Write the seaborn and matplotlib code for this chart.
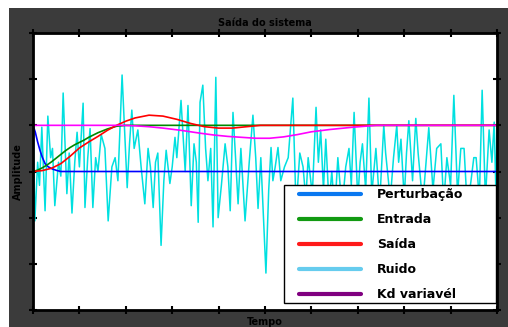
import numpy as np
import matplotlib
matplotlib.use("Agg")
import matplotlib.pyplot as plt
from matplotlib.lines import Line2D
from matplotlib.patches import Rectangle
import seaborn as sns

# ---- data ----
pert_t = [0.0, 0.05, 0.1, 0.15, 0.2, 0.26, 0.33, 0.43, 0.52, 0.6, 10.0]
pert_v = [1.0, 0.85, 0.64, 0.46, 0.31, 0.17, 0.10, 0.05, 0.02, 0.0, 0.0]

ent_t = [0.0, 0.1, 0.2, 0.3, 0.4, 0.5, 0.6, 0.7, 0.8, 0.9, 1.0, 1.1, 1.2, 1.3,
         1.4, 1.5, 1.6, 1.7, 1.8, 1.9, 2.0, 10.0]
ent_v = [0.0, 0.03, 0.08, 0.14, 0.21, 0.29, 0.37, 0.45, 0.52, 0.58, 0.63, 0.68,
         0.74, 0.79, 0.84, 0.88, 0.92, 0.95, 0.98, 0.99, 1.0, 1.0]

sai_t = [0.0, 0.2, 0.4, 0.6, 0.8, 1.0, 1.2, 1.4, 1.6, 1.8, 2.0, 2.2, 2.5, 2.8,
         3.1, 3.4, 3.7, 4.0, 4.3, 4.6, 4.9, 5.5, 10.0]
sai_v = [0.0, 0.02, 0.07, 0.17, 0.33, 0.51, 0.64, 0.76, 0.89, 1.0, 1.09, 1.16,
         1.22, 1.2, 1.13, 1.04, 0.97, 0.94, 0.94, 0.97, 1.0, 1.0, 1.0]

kd_t = [0.0, 1.9, 2.2, 2.5, 2.8, 3.2, 3.6, 3.9, 4.2, 4.5, 4.8, 5.1, 5.4, 5.7,
        6.0, 6.4, 6.9, 7.4, 10.0]
kd_v = [1.0, 1.0, 0.99, 0.97, 0.94, 0.89, 0.83, 0.79, 0.76, 0.74, 0.72, 0.72,
        0.75, 0.8, 0.86, 0.91, 0.96, 1.0, 1.0]

noise_t = [0.0, 0.04, 0.1, 0.14, 0.19, 0.26, 0.32, 0.38, 0.42, 0.47, 0.55, 0.6,
           0.65, 0.73, 0.78, 0.84, 0.9, 0.95, 1.0, 1.08, 1.12, 1.18, 1.23, 1.29,
           1.35, 1.4, 1.47, 1.55, 1.62, 1.7, 1.77, 1.83, 1.92, 2.03, 2.08, 2.13,
           2.18, 2.26, 2.33, 2.41, 2.48, 2.53, 2.59, 2.64, 2.69, 2.76, 2.82, 2.87,
           2.95, 3.0, 3.06, 3.1, 3.19, 3.28, 3.34, 3.41, 3.47, 3.52, 3.56, 3.6,
           3.66, 3.72, 3.77, 3.83, 3.88, 3.94, 3.99, 4.06, 4.14, 4.2, 4.25, 4.31,
           4.36, 4.42, 4.48, 4.57, 4.66, 4.74, 4.8, 4.85, 4.91, 5.02, 5.08, 5.13,
           5.17, 5.22, 5.28, 5.34, 5.42, 5.5, 5.6, 5.67, 5.75, 5.82, 5.88, 5.93,
           6.02, 6.1, 6.15, 6.2, 6.26, 6.31, 6.38, 6.44, 6.5, 6.57, 6.66, 6.74,
           6.81, 6.86, 6.92, 7.0, 7.05, 7.1, 7.17, 7.24, 7.3, 7.39, 7.47, 7.56,
           7.6, 7.7, 7.77, 7.84, 7.88, 7.93, 8.0, 8.05, 8.1, 8.18, 8.25, 8.3,
           8.4, 8.47, 8.53, 8.62, 8.7, 8.79, 8.85, 8.92, 9.0, 9.07, 9.15, 9.22,
           9.29, 9.36, 9.44, 9.5, 9.55, 9.62, 9.68, 9.75, 9.83, 9.89, 9.94, 9.98,
           10.0]
noise_v = [1.1, -1.07, 0.2, -0.3, 0.96, -0.85, 1.2, 0.3, 0.5, -0.74, 0.2, -0.1,
           1.7, -0.48, 0.4, -0.9, 0.2, 0.85, 0.1, 1.48, -0.78, 0.3, 0.93, -0.78,
           0.3, 0.0, 0.8, 0.5, -1.07, 0.1, 0.3, -0.2, 2.09, -0.35, 0.6, 1.33,
           0.5, 0.9, 0.1, -0.7, 0.5, 0.1, -0.78, 0.2, 0.4, -1.6, -0.2, 0.46,
           -0.26, 0.1, 0.74, 0.3, 1.54, 0.0, 1.43, -0.74, 0.6, 0.2, -1.1, 1.5,
           1.87, 0.5, -0.2, 0.5, -1.2, 2.04, -1.0, -0.3, 0.6, 0.1, -0.85, 1.28,
           0.4, -0.7, 0.5, -1.07, 0.2, 1.22, 0.3, -0.8, 0.3, -2.2, -0.4, 0.52,
           -0.2, 0.1, 0.52, -0.2, 0.1, 0.3, 1.59, -0.8, 0.4, 0.1, -0.6, 0.3,
           -0.5, 1.39, 0.2, 0.9, -0.4, 0.7, -0.7, 0.0, -0.9, 0.3, -0.8, 0.1,
           0.5, -0.3, 1.28, -0.6, 0.2, 0.6, -0.4, 1.59, -0.5, 0.5, -0.7, 1.0,
           0.4, -0.6, 0.3, 1.0, 0.2, 0.7, -0.6, 0.4, 1.1, -0.2, 1.15, 0.4,
           -0.7, 0.2, 0.95, -0.4, 0.5, 0.6, -0.7, 0.3, -0.3, 1.65, -0.5, 0.5,
           0.5, -0.8, -0.2, 0.3, 0.3, -0.6, 1.76, -0.6, 0.9, 0.2, 1.07, -0.63,
           1.0]

labels = ["Perturbação", "Entrada", "Saída", "Ruido", "Kd variavél"]
legend_colors = ["#0a78f0", "#129a12", "#ff1a1a", "#66ccee", "#800080"]

# ---- figure ----
sns.set_style("white")
plt.rcParams["font.family"] = ["DejaVu Sans"]
plt.rcParams["text.color"] = "black"

fig = plt.figure(figsize=(5.08, 3.27), dpi=100, facecolor="white")
bg = Rectangle((9 / 508, 0), 1, (327 - 8) / 327, transform=fig.transFigure,
               facecolor="#3b3b3b", edgecolor="none", zorder=-10)
fig.patches.append(bg)
ax = fig.add_axes([33 / 508, (327 - 310) / 327, 464 / 508, 277 / 327])
ax.set_zorder(5)
ax.set_facecolor("white")

sns.lineplot(x=noise_t, y=noise_v, ax=ax, color="#00e0e0", lw=1.1, sort=False, legend=False)
sns.lineplot(x=pert_t, y=pert_v, ax=ax, color="#0000ff", lw=1.2, legend=False)
sns.lineplot(x=ent_t, y=ent_v, ax=ax, color="#008800", lw=1.2, legend=False)
sns.lineplot(x=sai_t, y=sai_v, ax=ax, color="#ff0000", lw=1.2, legend=False)
sns.lineplot(x=kd_t, y=kd_v, ax=ax, color="#ff00ff", lw=1.2, legend=False)

ax.set_xlim(0, 10)
ax.set_ylim(-3, 3)
ax.set_xticks(np.arange(0, 11, 1))
ax.set_yticks(np.arange(-3, 4, 1))
ax.tick_params(axis="both", direction="inout", length=6, width=1.5, color="black",
               labelbottom=False, labelleft=False,
               bottom=True, left=True, top=True, right=True)
for s in ax.spines.values():
    s.set_color("black")
    s.set_linewidth(2)
    s.set_visible(True)

ax.set_title("Saída do sistema", fontsize=7, fontweight="bold", color="black", pad=5)
ax.set_xlabel("Tempo", fontsize=7, fontweight="bold", color="black", labelpad=2)
ax.set_ylabel("Amplitude", fontsize=7, fontweight="bold", color="black", labelpad=4)

# legend box drawn as a frame, legend entries placed inside it
frame = Rectangle((0.541, 0.025), 0.457, 0.426, transform=ax.transAxes,
                  facecolor="white", edgecolor="black", lw=1, zorder=10)
ax.add_patch(frame)
handles = [Line2D([0], [0], color=c, lw=3) for c in legend_colors]
leg = ax.legend(handles, labels, loc="upper left",
                bbox_to_anchor=((299 - 33) / 464, (310 - 188) / 277),
                prop={"weight": "bold", "size": 9}, handlelength=4.96,
                labelspacing=0.97, borderpad=0, handletextpad=1.28,
                frameon=False, borderaxespad=0, labelcolor="black")
leg.set_zorder(11)

fig.savefig("out.png", dpi=100, facecolor=fig.get_facecolor())
